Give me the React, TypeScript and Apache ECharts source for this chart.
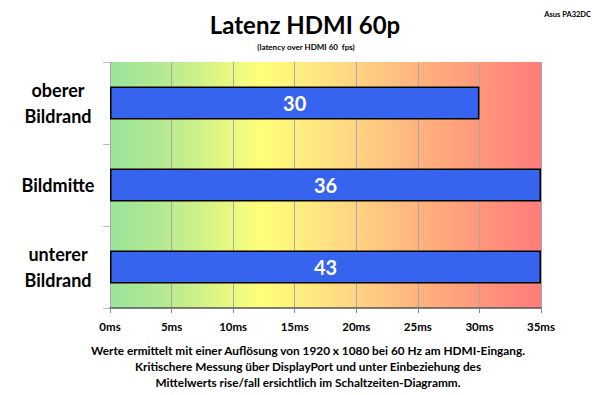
import React, { useEffect, useRef } from "react";
import * as echarts from "echarts";

const categories: string[] = ["oberer\nBildrand", "Bildmitte", "unterer\nBildrand"];
const latencies: number[] = [30, 36, 43];
const axisMax = 35;
const axisInterval = 5;
const titleText = "Latenz HDMI 60p";
const subtitleText = "(latency over HDMI 60  fps)";
const cornerText = "Asus PA32DC";
const footerLines: string[] = [
  "Werte ermittelt mit einer Auflösung von 1920 x 1080 bei 60 Hz am HDMI-Eingang.",
  "Kritischere Messung über DisplayPort und unter Einbeziehung des",
  "Mittelwerts rise/fall ersichtlich im Schaltzeiten-Diagramm.",
];

const FONT = "Lato, 'Open Sans', sans-serif";

export default function App() {
  const ref = useRef<HTMLDivElement>(null);
  useEffect(() => {
    if (!ref.current) return;
    const chart = echarts.init(ref.current, undefined, { renderer: "svg" });
    const bg = new echarts.graphic.LinearGradient(0, 0, 1, 0, [
      { offset: 0, color: "#9be49a" },
      { offset: 0.12, color: "#b4e992" },
      { offset: 0.35, color: "#ffff7a" },
      { offset: 0.55, color: "#ffd884" },
      { offset: 0.75, color: "#ffac7c" },
      { offset: 1, color: "#ff7b7b" },
    ]);
    chart.setOption({
      animation: false,
      textStyle: { fontFamily: FONT },
      grid: {
        left: 110,
        right: 59,
        top: 62,
        bottom: 87,
        show: true,
        backgroundColor: bg,
        borderWidth: 0,
      },
      title: [
        {
          text: titleText,
          left: 300,
          top: 7,
          textAlign: "center",
          textStyle: { fontFamily: FONT, fontSize: 24, fontWeight: "bold", color: "#000" },
        },
        {
          text: subtitleText,
          left: 301,
          top: 38,
          textAlign: "center",
          textStyle: { fontFamily: FONT, fontSize: 8, fontWeight: "bold", color: "#000" },
        },
        {
          text: cornerText,
          right: 4,
          top: 5,
          textStyle: { fontFamily: FONT, fontSize: 7.5, fontWeight: "bold", color: "#000" },
        },
      ],
      xAxis: {
        type: "value",
        min: 0,
        max: axisMax,
        interval: axisInterval,
        axisLine: { show: true, lineStyle: { color: "#555", width: 1.5 } },
        axisTick: { show: true, length: 5, lineStyle: { color: "#888" } },
        splitLine: { show: true, lineStyle: { color: "#a8a8a8", width: 1 } },
        axisLabel: {
          formatter: (v: number) => `${v}ms`,
          fontFamily: FONT,
          fontSize: 11.5,
          fontWeight: "bold",
          color: "#000",
          margin: 12,
        },
      },
      yAxis: {
        type: "category",
        data: categories,
        inverse: true,
        axisLine: { show: true, lineStyle: { color: "#aaa" } },
        axisTick: { show: true, length: 7, lineStyle: { color: "#bbb" } },
        axisLabel: {
          fontFamily: FONT,
          fontSize: 18,
          fontWeight: "bold",
          color: "#000",
          lineHeight: 26,
          align: "center",
          margin: 52,
        },
      },
      series: [
        {
          type: "bar",
          data: latencies.map((v) => Math.min(v, axisMax)),
          barWidth: 33,
          itemStyle: { color: "#3764ee", borderColor: "#000", borderWidth: 1.5 },
          label: {
            show: true,
            position: "inside",
            formatter: (p: any) => String(latencies[p.dataIndex]),
            fontFamily: FONT,
            fontSize: 20,
            fontWeight: "bold",
            color: "#fff",
          },
        },
      ],
      graphic: footerLines.map((line, i) => ({
        type: "text",
        x: 308,
        y: 350 + i * 16,
        style: {
          text: line,
          textAlign: "center",
          textVerticalAlign: "middle",
          fontFamily: FONT,
          fontSize: 11.8,
          fontWeight: "bold",
          fill: "#000",
        },
      })),
    });
    return () => chart.dispose();
  }, []);
  return (
    <div
      ref={ref}
      style={{ position: "absolute", left: 0, top: 0, width: 600, height: 395 }}
    />
  );
}
